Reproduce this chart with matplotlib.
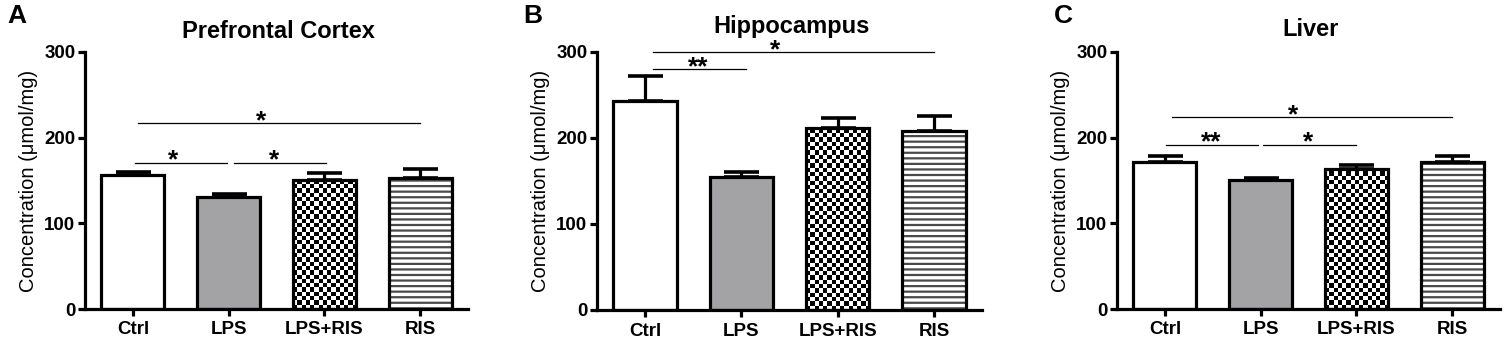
import numpy as np
import matplotlib
matplotlib.use("Agg")
import matplotlib.pyplot as plt

plt.rcParams["font.family"] = ["Liberation Sans", "DejaVu Sans"]
plt.rcParams["hatch.linewidth"] = 1.6

# ── data ───────────────────────────────────────────────────────────────
groups = ["Ctrl", "LPS", "LPS+RIS", "RIS"]

pfc_mean = [156, 131, 151, 153]
pfc_sem = [4, 3, 8, 10]

hip_mean = [243, 155, 212, 208]
hip_sem = [29, 6, 11, 17]

liver_mean = [172, 151, 164, 172]
liver_sem = [7, 2, 4, 7]

# significance brackets: (x start, x end, height, label, label x)
pfc_sig = [(0.02, 0.98, 171, "*", 0.42), (1.06, 2.02, 171, "*", 1.47),
           (0.05, 3.0, 217, "*", 1.34)]
hip_sig = [(0.08, 1.05, 280, "**", 0.55), (0.08, 3.0, 300, "*", 1.35)]
liver_sig = [(0.01, 0.97, 192, "**", 0.48), (1.02, 2.0, 192, "*", 1.5),
             (0.07, 3.0, 224, "*", 1.34)]

titles = ["Prefrontal Cortex", "Hippocampus", "Liver"]
letters = ["A", "B", "C"]

W, H = 1505, 347
fig = plt.figure(figsize=(W / 100, H / 100), dpi=100)

panels = [
    (pfc_mean, pfc_sem, pfc_sig, [85, 468], 309),
    (hip_mean, hip_sem, hip_sig, [597, 982], 310),
    (liver_mean, liver_sem, liver_sig, [1117, 1500], 309),
]
letter_x = [17, 533, 1063]
title_y = [32, 27, 29]

BAR_W = 0.66
LW = 2.3

for k, (means, sems, sigs, (x0, x1), ybot) in enumerate(panels):
    ax = fig.add_axes([x0 / W, 1 - ybot / H, (x1 - x0) / W, (ybot - 52) / H])
    x = np.arange(len(groups))

    fills = ["white", "#a3a3a6", "white", "white"]
    bars = ax.bar(x, means, width=BAR_W, color=fills, linewidth=0, zorder=1)

    # checkerboard for LPS+RIS
    p = bars[2]
    nx = 15
    sq_h = 5.0
    ny = int(np.ceil(p.get_height() / sq_h))
    checker = (np.indices((ny, nx)).sum(axis=0) % 2).astype(float)
    im = ax.imshow(checker, cmap="gray", interpolation="nearest", aspect="auto",
                   extent=(p.get_x(), p.get_x() + p.get_width(), 0, ny * sq_h),
                   origin="lower", zorder=2)
    im.set_clip_path(p)

    # horizontal lines for RIS
    ax.bar(x[3], means[3], width=BAR_W, facecolor="none", edgecolor="#4a4a4a",
           linewidth=0, hatch="---", zorder=2)

    ax.bar(x, means, width=BAR_W, facecolor="none", edgecolor="black",
           linewidth=LW, zorder=3)
    ax.errorbar(x, means, yerr=[np.zeros(len(sems)), sems], fmt="none",
                ecolor="black", elinewidth=LW, capsize=12.6, capthick=2.6,
                zorder=4)

    for xa, xb, yy, lab, lx in sigs:
        ax.plot([xa, xb], [yy, yy], color="black", linewidth=0.9, zorder=5,
                clip_on=False)
        ax.text(lx, yy - 6, lab, ha="center", va="baseline", fontsize=19,
                fontweight="bold", zorder=5, clip_on=False)

    ax.set_xlim(-0.5, 3.5)
    ax.set_ylim(0, 300)
    ax.set_yticks([0, 100, 200, 300])
    ax.set_xticks(x)
    ax.set_xticklabels(groups)
    for s in ["top", "right"]:
        ax.spines[s].set_visible(False)
    for s in ["left", "bottom"]:
        ax.spines[s].set_linewidth(LW)
    ax.tick_params(axis="both", width=LW, length=5, labelsize=13.5, pad=2)
    ax.tick_params(axis="x", pad=4)
    for lbl in ax.get_xticklabels() + ax.get_yticklabels():
        lbl.set_fontweight("bold")
    ax.set_ylabel("Concentration (\u03bcmol/mg)", fontsize=14.5)
    ax.yaxis.set_label_coords(-0.122, 0.5)

    cx = (x0 + x1) / 2 + 2
    fig.text(cx / W, 1 - title_y[k] / H, titles[k], ha="center", va="center",
             fontsize=17, fontweight="bold")
    fig.text(letter_x[k] / W, 1 - 16 / H, letters[k], ha="center", va="center",
             fontsize=19, fontweight="bold")

fig.savefig("out.png", dpi=100)
